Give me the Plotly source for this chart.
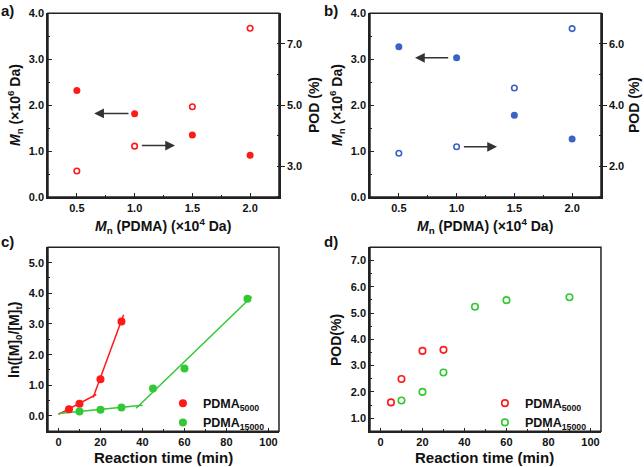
import plotly.graph_objects as go

# ---------------- data ----------------
mn_pdma = [0.5, 1.0, 1.5, 2.0]
# panel a
a_mn = [2.32, 1.81, 1.35, 0.91]
a_pod = [2.85, 3.66, 4.95, 7.51]
# panel b
b_mn = [3.27, 3.03, 1.78, 1.26]
b_pod = [2.43, 2.64, 4.56, 6.50]

# panel c (kinetics)
c_t5000 = [5, 10, 20, 30]
c_ln5000 = [0.22, 0.40, 1.20, 3.08]
c_t15000 = [10, 20, 30, 45, 60, 90]
c_ln15000 = [0.15, 0.20, 0.28, 0.90, 1.55, 3.82]
# fitted segments
fit5000_a_x = [0, 18]
fit5000_a_y = [0.05, 0.70]
fit5000_b_x = [16.5, 31]
fit5000_b_y = [0.60, 3.30]
fit15000_a_x = [0, 40]
fit15000_a_y = [0.08, 0.35]
fit15000_b_x = [37, 92]
fit15000_b_y = [0.25, 3.89]

# panel d
d_t5000 = [5, 10, 20, 30]
d_pod5000 = [1.60, 2.49, 3.56, 3.60]
d_t15000 = [10, 20, 30, 45, 60, 90]
d_pod15000 = [1.67, 2.00, 2.74, 5.24, 5.49, 5.60]

# arrows (tail x, head x, y)
a_arrow_left = (0.96, 0.65, 1.82)
a_arrow_right = (1.05, 1.35, 3.68)
b_arrow_left = (0.94, 0.64, 3.03)
b_arrow_right = (1.05, 1.35, 2.64)

RED = "#ff1a1a"
BLUE = "#3a62c8"
GREEN = "#33c833"
FONT = "Liberation Sans"
INK = "#222"

fig = go.Figure()

def filled(x, y, color, xa, ya, size=7, name=None, show=False, legend=None):
    return go.Scatter(x=x, y=y, mode="markers", xaxis=xa, yaxis=ya,
                      marker=dict(color=color, size=size, line=dict(width=0)),
                      name=name, showlegend=show, legend=legend)

def opened(x, y, color, xa, ya, size=5.5, name=None, show=False, legend=None):
    return go.Scatter(x=x, y=y, mode="markers", xaxis=xa, yaxis=ya,
                      marker=dict(color=color, size=size, symbol="circle-open",
                                  line=dict(color=color, width=1.6)),
                      name=name, showlegend=show, legend=legend)

def seg(x, y, color, xa, ya):
    return go.Scatter(x=x, y=y, mode="lines", xaxis=xa, yaxis=ya,
                      line=dict(color=color, width=1.5), showlegend=False, hoverinfo="skip")

# panel a
fig.add_trace(filled(mn_pdma, a_mn, RED, "x", "y"))
fig.add_trace(opened(mn_pdma, a_pod, RED, "x", "y2"))
# panel b
fig.add_trace(filled(mn_pdma, b_mn, BLUE, "x2", "y3"))
fig.add_trace(opened(mn_pdma, b_pod, BLUE, "x2", "y4"))
# panel c
fig.add_trace(seg(fit5000_a_x, fit5000_a_y, RED, "x3", "y5"))
fig.add_trace(seg(fit5000_b_x, fit5000_b_y, RED, "x3", "y5"))
fig.add_trace(seg(fit15000_a_x, fit15000_a_y, GREEN, "x3", "y5"))
fig.add_trace(seg(fit15000_b_x, fit15000_b_y, GREEN, "x3", "y5"))
fig.add_trace(filled(c_t5000, c_ln5000, RED, "x3", "y5", size=8,
                     name="<b>PDMA<sub>5000</sub></b>", show=True, legend="legend"))
fig.add_trace(filled(c_t15000, c_ln15000, GREEN, "x3", "y5", size=8,
                     name="<b>PDMA<sub>15000</sub></b>", show=True, legend="legend"))
# panel d
fig.add_trace(opened(d_t5000, d_pod5000, RED, "x4", "y6", size=6.5,
                     name="<b>PDMA<sub>5000</sub></b>", show=True, legend="legend2"))
fig.add_trace(opened(d_t15000, d_pod15000, GREEN, "x4", "y6", size=6.5,
                     name="<b>PDMA<sub>15000</sub></b>", show=True, legend="legend2"))

tickfont = dict(family=FONT, size=11, color="#111", weight="bold")

def axis(domain, rng, dtick, tick0, minor_dtick, anchor, fmt, **kw):
    d = dict(domain=domain, range=rng, dtick=dtick, tick0=tick0, anchor=anchor,
             showline=True, linecolor=INK, linewidth=1.5, mirror=False,
             ticks="inside", ticklen=4, tickwidth=1.2, tickcolor=INK,
             minor=dict(ticks="inside", ticklen=2.5, dtick=minor_dtick, tickcolor=INK),
             showgrid=False, zeroline=False, tickfont=tickfont, tickformat=fmt,
             automargin=False)
    d.update(kw)
    return d

top_dom = [0.5782, 0.9715]
bot_dom = [0.0764, 0.4704]
left_dom = [0.0745, 0.4332]
right_dom = [0.5745, 0.9332]

legend_font = dict(family=FONT, size=12.5, color="#111")
layout = dict(
    width=644, height=467, margin=dict(l=0, r=0, t=0, b=0, autoexpand=False),
    paper_bgcolor="white", plot_bgcolor="white",
    font=dict(family=FONT, color="#111"),
    xaxis=axis(left_dom, [0.25, 2.25], 0.5, 0.5, 0.25, "y", ".1f"),
    yaxis=axis(top_dom, [0, 4], 1, 0, 0.5, "x", ".1f"),
    yaxis2=axis(top_dom, [2, 8], 2, 3, 1, "x", ".1f", side="right", overlaying="y", ticks="outside"),
    xaxis2=axis(right_dom, [0.25, 2.25], 0.5, 0.5, 0.25, "y3", ".1f"),
    yaxis3=axis(top_dom, [0, 4], 1, 0, 0.5, "x2", ".1f"),
    yaxis4=axis(top_dom, [1, 7], 2, 2, 1, "x2", ".1f", side="right", overlaying="y3", ticks="outside"),
    xaxis3=axis(left_dom, [-5, 105], 20, 0, 10, "y5", "d"),
    yaxis5=axis(bot_dom, [-0.5, 5.5], 1, 0, 0.5, "x3", ".1f"),
    xaxis4=axis(right_dom, [-5, 105], 20, 0, 10, "y6", "d"),
    yaxis6=axis(bot_dom, [0.5, 7.5], 1, 0, 0.5, "x4", ".1f"),
    legend=dict(x=0.253, y=0.168, xanchor="left", yanchor="top", bgcolor="rgba(0,0,0,0)",
                font=legend_font, tracegroupgap=0, itemwidth=30),
    legend2=dict(x=0.753, y=0.168, xanchor="left", yanchor="top", bgcolor="rgba(0,0,0,0)",
                 font=legend_font, tracegroupgap=0, itemwidth=30),
)
fig.update_layout(**layout)

# frames around each panel
shapes = []
for xa, ya in [("x", "y"), ("x2", "y3"), ("x3", "y5"), ("x4", "y6")]:
    shapes.append(dict(type="rect", xref=xa + " domain", yref=ya + " domain",
                       x0=0, x1=1, y0=0, y1=1, line=dict(color=INK, width=1.5),
                       fillcolor="rgba(0,0,0,0)", layer="above"))
fig.update_layout(shapes=shapes)

ann = []

def txt(x, y, text, angle=0, size=14):
    ann.append(dict(x=x / 644, y=1 - y / 467, xref="paper", yref="paper", text=text,
                    showarrow=False, textangle=angle, xanchor="center", yanchor="middle",
                    font=dict(family=FONT, size=size, color="#111")))

# axis titles
mn_title = "<b><i>M</i><sub>n</sub> (×10<sup>6</sup> Da)</b>"
x_title = "<b><i>M</i><sub>n</sub> (PDMA) (×10<sup>4</sup> Da)</b>"
txt(15, 105, mn_title, -90)
txt(314, 105, "<b>POD (%)</b>", -90)
txt(163, 226, x_title)
txt(337, 105, mn_title, -90)
txt(634, 105, "<b>POD (%)</b>", -90)
txt(485, 226, x_title)
txt(15, 340, "<b>ln([M]<sub>0</sub>/[M]<sub>t</sub>)</b>", -90)
txt(163, 457, "<b>Reaction time (min)</b>", size=15)
txt(336, 340, "<b>POD(%)</b>", -90)
txt(485, 457, "<b>Reaction time (min)</b>", size=15)
# panel labels
txt(8, 11, "<b>a)</b>", size=15)
txt(331, 11, "<b>b)</b>", size=15)
txt(8, 241, "<b>c)</b>", size=15)
txt(331, 241, "<b>d)</b>", size=15)

def arrow(xa, ya, spec):
    tail, head, yv = spec
    ann.append(dict(x=head, y=yv, ax=tail, ay=yv, xref=xa, yref=ya, axref=xa, ayref=ya,
                    showarrow=True, arrowhead=2, arrowsize=1.3, arrowwidth=1.5,
                    arrowcolor="#333", text=""))

arrow("x", "y", a_arrow_left)
arrow("x", "y2", a_arrow_right)
arrow("x2", "y3", b_arrow_left)
arrow("x2", "y4", b_arrow_right)

fig.update_layout(annotations=ann)
fig.write_html("out.html", config={"displayModeBar": False},
               post_script="document.body.style.margin='0px';document.body.style.overflow='hidden';")
